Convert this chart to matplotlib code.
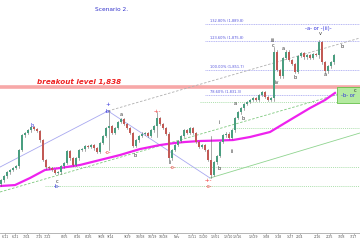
import matplotlib
matplotlib.use("Agg")
import matplotlib.pyplot as plt
import numpy as np

#### DATA ####

# closes, one candle every 3 bars
closes = [1761.5, 1764.8, 1768.1, 1769.8, 1771.4, 1773.0, 1786.2, 1798.5, 1800.2, 1802.6,
          1805.1, 1803.5, 1801.8, 1794.4, 1778.0, 1772.2, 1771.4, 1769.8, 1767.3, 1768.1,
          1773.0, 1775.5, 1785.4, 1779.6, 1773.9, 1779.6, 1786.2, 1787.0, 1789.5, 1788.7,
          1790.3, 1787.8, 1784.6, 1792.0, 1797.7, 1804.3, 1805.9, 1800.2, 1804.3, 1809.2,
          1811.7, 1807.6, 1804.3, 1800.2, 1789.5, 1794.4, 1797.7, 1799.4, 1800.2, 1797.7,
          1802.6, 1805.9, 1812.5, 1807.6, 1804.3, 1799.4, 1779.6, 1786.2, 1790.3, 1793.6,
          1797.7, 1802.6, 1800.2, 1804.3, 1800.2, 1792.8, 1788.7, 1790.3, 1786.2, 1778.0,
          1765.7, 1776.3, 1781.3, 1792.8, 1798.5, 1799.4, 1796.1, 1802.6, 1812.5, 1817.4,
          1820.7, 1824.0, 1825.7, 1827.3, 1828.9, 1827.3, 1831.4, 1833.9, 1829.8, 1827.3,
          1828.9, 1866.8, 1852.0, 1847.0, 1861.8, 1866.8, 1860.2, 1856.9, 1850.3, 1863.5,
          1865.9, 1862.6, 1864.3, 1861.8, 1865.1, 1864.3, 1875.0, 1858.5, 1851.1, 1855.2,
          1858.5, 1864.3]
first_open = 1758.0

# long wicks (candle index, high, low)
spike_idx = [36, 52, 70, 91, 106]
spike_hi = [1819.1, 1817.4, 1798.0, 1870.9, 1876.6]
spike_lo = [1786.2, 1797.0, 1763.2, 1826.5, 1862.0]

# moving average
ma_x = [0, 15, 30, 45, 60, 80, 100, 120, 140, 160, 175, 185, 200, 233, 250, 270, 290, 310, 325, 335]
ma_y = [1756.6, 1757.4, 1763.2, 1769.8, 1771.4, 1773.9, 1778.0, 1782.1, 1787.0, 1790.3,
        1792.0, 1792.8, 1793.6, 1794.4, 1796.9, 1801.0, 1810.9, 1820.7, 1827.3, 1833.1]

breakout = 1838.0
fib_levels = [1889.8, 1875.8, 1851.7, 1831.3]
fib_labels = ["132.80% (1,889.8)", "123.60% (1,875.8)", "100.00% (1,851.7)", "78.60% (1,831.3)"]

tick_pos = [5, 15, 27, 39, 48, 65, 77, 89, 102, 110, 128, 140, 152, 163, 177,
            192, 203, 215, 228, 237, 253, 266, 278, 290, 300, 317, 330, 342, 354]
tick_lab = ["6/11", "6/21", "7/04", "7/15", "7/22", "8/05", "8/16", "8/26", "9/08", "9/14",
            "9/29", "10/08", "10/19", "10/28", "Nov", "11/11", "11/20", "12/01", "12/10", "12/16",
            "12/29", "1/08", "1/18", "1/27", "2/04", "2/16", "2/25", "3/08", "3/17"]

#### PLOT ####

fig = plt.figure(figsize=(3.6, 2.4), dpi=100)
ax = fig.add_axes([0, 7 / 240, 1, 233 / 240])
ax.set_xlim(0, 360)
ax.set_ylim(1718.0, 1909.5)

# horizontal levels
ax.axhline(breakout, color="#f7a8a8", lw=2.6, zorder=1)
for lv, lab in zip(fib_levels, fib_labels):
    ax.plot([205, 360], [lv, lv], color="#9b9bf0", lw=0.5, ls=(0, (1.5, 1)), zorder=1)
    ax.text(210, lv + 1.0, lab, color="#5555dd", fontsize=2.6, va="bottom")
for lv, x0 in [(1825.7, 200), (1804.3, 232), (1772.2, 45), (1756.6, 45)]:
    ax.plot([x0, 360], [lv, lv], color="#8fd48f", lw=0.5, ls=(0, (1.5, 1.5)), zorder=1)

# trend lines
ax.plot([0, 108], [1772.2, 1818.3], color="#a8a8f0", lw=0.6, zorder=1)
ax.plot([108, 210], [1818.3, 1763.2], color="#a8a8f0", lw=0.6, zorder=1)
ax.plot([108, 360], [1818.3, 1878.3], color="#b0b0b0", lw=0.6, ls=(0, (3, 2)), zorder=1)
ax.plot([0, 360], [1751.7, 1837.2], color="#7cc87c", lw=0.6, ls=(0, (3, 2)), zorder=1)
ax.plot([210, 360], [1763.2, 1800.2], color="#8fd48f", lw=0.6, zorder=1)

# target box
ax.fill_between([337, 360], 1824.8, 1838.0, color="#b4eaa0", ec="#66c04a", lw=0.6, zorder=2)

# moving average
ax.plot(ma_x, ma_y, color="#ee22ee", lw=1.6, zorder=3)

# candles
xs = np.arange(len(closes)) * 3 + 1
opens = [first_open] + closes[:-1]
for i, (x, o, c) in enumerate(zip(xs, opens, closes)):
    col = "#4a9e80" if c >= o else "#c25a55"
    hi, lo = max(o, c) + 1.2, min(o, c) - 1.2
    if i in spike_idx:
        k = spike_idx.index(i)
        hi, lo = max(hi, spike_hi[k]), min(lo, spike_lo[k])
    ax.plot([x, x], [lo, hi], color="#666666", lw=0.4, zorder=4)
    ax.bar(x, c - o if c != o else 0.4, bottom=o, width=1.5, color=col, lw=0, zorder=5)

# texts
ax.text(95, 1902.1, "Scenario 2.", color="#3333cc", fontsize=4.2, va="center")
ax.text(37, 1839.5, "breakout level 1,838", color="#ee2222", fontsize=5.2,
        style="italic", weight="bold", va="bottom")
ax.text(318, 1885.7, "-a- or -(ii)-", color="#3333dd", fontsize=3.8, ha="center", va="center")
ax.text(348, 1830.8, "-b- or", color="#3333dd", fontsize=3.8, ha="center", va="center")
ax.text(32, 1806.5, "b", color="#3333dd", fontsize=3.6, ha="center", va="center")
ax.text(57, 1756.6, "-b-", color="#3333dd", fontsize=3.6, ha="center", va="center")
ax.text(108, 1817.5, "-b-", color="#3333dd", fontsize=3.6, ha="center", va="center")
ax.text(108, 1823.5, "+", color="#3333dd", fontsize=4, ha="center", va="center")
for x, y, s in [(108, 1784.0, "-o-"), (158, 1817.5, "-+-"), (173, 1772.0, "-o-"),
                (209, 1761.0, "-+-"), (209, 1756.0, "-o-")]:
    ax.text(x, y, s, color="#ee3333", fontsize=3.4, ha="center", va="center")
waves = [(320, 1881.6, "v"), (273, 1876.6, "iii"), (273, 1871.7, "c"), (283, 1870.0, "a"),
         (277, 1841.3, "iv"), (295, 1845.4, "b"), (325, 1847.9, "a"), (342, 1870.9, "b"),
         (355, 1835.5, "c"), (57, 1760.7, "c"), (135, 1782.1, "b"), (121, 1815.0, "a"),
         (219, 1809.2, "i"), (219, 1771.4, "b"), (232, 1784.6, "ii"), (235, 1824.8, "a"),
         (243, 1812.5, "b"), (170, 1776.0, "ii")]
for x, y, s in waves:
    ax.text(x, y, s, color="#333333", fontsize=3.6, ha="center", va="center")

# axes
for side in ["top", "left", "right"]:
    ax.spines[side].set_visible(False)
ax.spines["bottom"].set_color("#aaaaaa")
ax.spines["bottom"].set_linewidth(0.6)
ax.set_yticks([])
ax.set_xticks(tick_pos)
ax.set_xticklabels(tick_lab, fontsize=2.3, color="#555555")
ax.tick_params(axis="x", length=1.2, width=0.4, pad=0.4, color="#888888")

fig.savefig("out.png", dpi=100)
